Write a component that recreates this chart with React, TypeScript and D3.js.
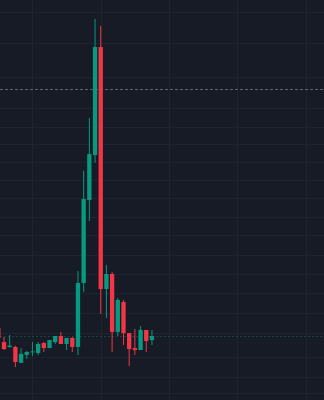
import React from "react";
import * as d3 from "d3";

const W = 324;
const H = 400;

// candle index (time slot), open, high, low, close
const idx = [0,1,2,3,4,5,6,7,8,9,10,11,12,13,14,15,16,17,18,19,20,21,22,23,24,25,26,27];
const open = [1.041,0.969,0.943,0.944,0.862,0.903,0.918,0.913,0.964,0.938,0.969,1.0,0.959,0.99,0.944,1.272,1.697,1.928,2.482,1.241,1.318,1.021,1.174,1.015,0.938,0.928,1.031,0.979];
const high = [1.051,0.995,1.005,0.949,0.938,0.923,0.969,0.969,0.969,0.979,1.0,1.021,0.99,0.995,1.333,1.848,2.118,2.626,2.59,1.364,1.328,1.195,1.185,1.015,1.036,1.051,1.031,1.031];
const low = [0.99,0.928,0.942,0.841,0.862,0.882,0.897,0.903,0.918,0.938,0.959,0.959,0.928,0.918,0.903,1.226,1.59,1.887,1.113,1.092,0.918,1.0,0.954,0.846,0.903,0.928,0.918,0.954];
const close = [0.99,0.933,0.951,0.867,0.908,0.918,0.921,0.959,0.938,0.979,1.0,0.959,0.99,0.944,1.272,1.703,1.933,2.482,1.241,1.318,1.021,1.185,1.015,0.933,0.928,1.031,0.974,1.0];

const timeTicks = [6, 18, 30, 42, 54];
const priceTicks = [0.708,0.79,0.892,1.015,1.118,1.221,1.318,1.415,1.518,1.61,1.708,1.8,1.892,1.985,2.072,2.169,2.328,2.503,2.662];
const markLevel = 2.267;

const UP = "#089981";
const DOWN = "#f23645";
const BG = "#171b26";
const GRID = "#1f2330";

export default function App() {
  const x = d3.scaleLinear().domain([0, 57]).range([-1.69, -1.69 + 5.69 * 57]);
  const y = d3.scaleLinear().domain([0.6718, 2.7231]).range([H, 0]);
  const bw = 5.69 * 0.76;
  const last = close[close.length - 1];
  return (
    <svg width={W} height={H} style={{ position: "absolute", left: 0, top: 0, background: BG }}>
      <rect x={0} y={0} width={W} height={H} fill={BG} />
      {priceTicks.map((p, i) => (
        <line key={"h" + i} x1={0} x2={W} y1={Math.round(y(p)) + 0.5} y2={Math.round(y(p)) + 0.5} stroke={GRID} strokeWidth={1} />
      ))}
      {timeTicks.map((t, i) => (
        <line key={"v" + i} x1={Math.round(x(t)) + 0.5} x2={Math.round(x(t)) + 0.5} y1={0} y2={H} stroke={GRID} strokeWidth={1} />
      ))}
      <line x1={0} x2={W} y1={Math.round(y(markLevel)) + 0.5} y2={Math.round(y(markLevel)) + 0.5} stroke="#5f626d" strokeWidth={1} strokeDasharray="3,2" />
      <line x1={0} x2={W} y1={Math.round(y(last)) + 0.5} y2={Math.round(y(last)) + 0.5} stroke={UP} strokeOpacity={0.35} strokeWidth={1} strokeDasharray="2,2" />
      {idx.map((t, i) => {
        const up = close[i] >= open[i];
        const col = up ? UP : DOWN;
        const cx = x(t);
        const top = y(Math.max(open[i], close[i]));
        const bot = y(Math.min(open[i], close[i]));
        return (
          <g key={"c" + i}>
            <line x1={cx} x2={cx} y1={y(high[i])} y2={y(low[i])} stroke={col} strokeWidth={1} />
            <rect x={cx - bw / 2} y={top} width={bw} height={Math.max(1, bot - top)} fill={col} />
          </g>
        );
      })}
    </svg>
  );
}
